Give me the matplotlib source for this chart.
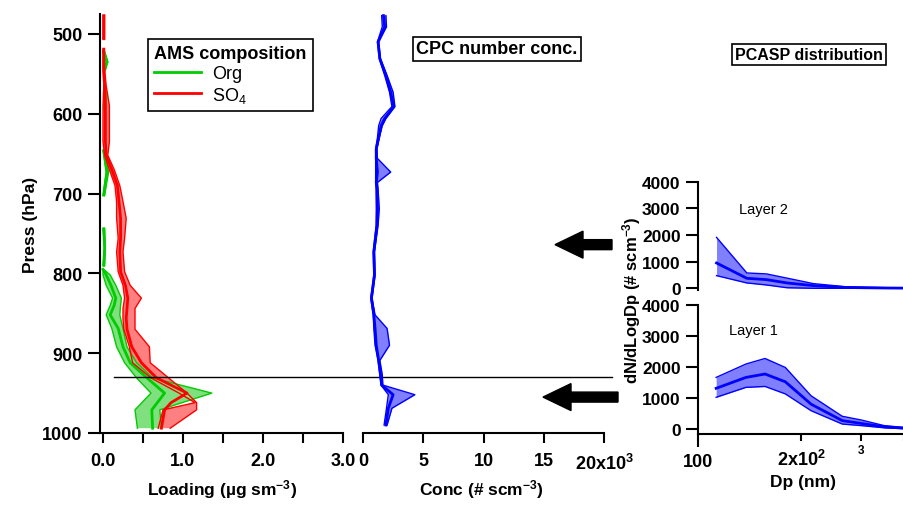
import numpy as np
import matplotlib
matplotlib.use("Agg")
import matplotlib.pyplot as plt
from matplotlib.patches import FancyArrow
from matplotlib.lines import Line2D
from matplotlib.transforms import blended_transform_factory

plt.rcParams['font.family'] = ['Liberation Sans', 'DejaVu Sans']
plt.rcParams['mathtext.fontset'] = 'custom'
plt.rcParams['mathtext.rm'] = 'Liberation Sans'
plt.rcParams['mathtext.bf'] = 'Liberation Sans:bold'
plt.rcParams['mathtext.default'] = 'rm'

nan = np.nan

# ---------------------------------------------------------------
# AMS organics profile (ug sm-3), lower / mean / upper, vs pressure (hPa)
org_p = [522, 535, 545, 552, 565, 580, 594, 620, 646, 673, 702, 720, 744, 768, 790,
         792, 795, 802, 815, 831, 840, 852, 869, 892, 912, 931, 950, 971, 994]
org_lo = [0.00, 0.04, 0.01, nan, 0.01, 0.02, 0.01, nan, 0.00, 0.04, 0.00, nan, 0.00, 0.02, 0.00,
          nan, 0.00, 0.00, 0.04, 0.12, 0.09, 0.04, 0.11, 0.17, 0.27, 0.42, 0.60, 0.40, 0.43]
org_mean = [0.01, 0.05, 0.02, nan, 0.02, 0.03, 0.02, nan, 0.01, 0.05, 0.01, nan, 0.01, 0.02, 0.01,
            nan, 0.00, 0.04, 0.10, 0.16, 0.14, 0.09, 0.19, 0.25, 0.34, 0.55, 0.77, 0.61, 0.62]
org_hi = [0.02, 0.06, 0.03, nan, 0.03, 0.04, 0.03, nan, 0.02, 0.07, 0.02, nan, 0.02, 0.03, 0.02,
          nan, 0.01, 0.09, 0.16, 0.23, 0.22, 0.21, 0.25, 0.30, 0.42, 0.62, 1.36, 0.71, 0.73]

# AMS sulphate profile
so4_p = [477, 490, 506, 512, 519, 544, 565, 590, 605, 635, 652, 670, 690, 710, 731,
         756, 773, 798, 815, 831, 844, 856, 870, 892, 912, 931, 950, 962, 971, 994]
so4_lo = [0.00, 0.00, 0.00, nan, 0.00, 0.00, 0.01, 0.00, 0.00, 0.00, 0.02, 0.08, 0.15, 0.17, 0.17,
          0.19, 0.17, 0.19, 0.25, 0.27, 0.25, 0.25, 0.26, 0.33, 0.37, 0.60, 0.95, 1.15, 0.75, 0.69]
so4_mean = [0.01, 0.01, 0.01, nan, 0.01, 0.01, 0.02, 0.03, 0.03, 0.03, 0.04, 0.11, 0.18, 0.20, 0.22,
            0.22, 0.21, 0.22, 0.28, 0.31, 0.30, 0.29, 0.30, 0.36, 0.48, 0.67, 1.05, 0.85, 0.77, 0.73]
so4_hi = [0.02, 0.02, 0.02, nan, 0.01, 0.02, 0.04, 0.08, 0.08, 0.08, 0.06, 0.14, 0.21, 0.25, 0.29,
          0.27, 0.25, 0.27, 0.34, 0.48, 0.40, 0.40, 0.40, 0.58, 0.59, 0.82, 1.05, 1.17, 1.17, 0.84]

# CPC number concentration (x10^3 # scm-3)
cpc_p = [477, 491, 510, 531, 552, 573, 591, 606, 615, 630, 644, 656, 673, 686, 694,
         719, 740, 773, 802, 831, 852, 869, 890, 909, 927, 940, 952, 969, 990]
cpc_lo = [1.55, 1.6, 1.2, 1.35, 1.8, 2.2, 2.4, 1.5, 1.3, 1.2, 1.05, 1.05, 1.05, 1.05, 1.1,
          1.1, 1.1, 0.85, 0.9, 0.65, 0.85, 0.9, 1.0, 1.25, 1.4, 1.5, 2.1, 1.95, 1.75]
cpc_mean = [1.7, 1.8, 1.25, 1.4, 1.9, 2.3, 2.55, 1.8, 1.5, 1.3, 1.1, 1.1, 1.2, 1.1, 1.15,
            1.2, 1.15, 0.9, 0.95, 0.7, 0.9, 1.0, 1.1, 1.3, 1.45, 1.55, 2.5, 2.1, 1.9]
cpc_hi = [1.9, 1.95, 1.3, 1.45, 2.0, 2.5, 2.65, 1.9, 1.6, 1.35, 1.15, 1.2, 2.3, 1.2, 1.25,
          1.35, 1.25, 0.95, 1.0, 0.75, 1.0, 2.0, 2.2, 1.4, 1.6, 1.65, 4.3, 2.4, 2.0]

# PCASP size distributions (dN/dlogDp) for the two layers
dp = [113, 138, 157, 180, 214, 264, 300, 350, 400]
l1_mean = [1310, 1660, 1770, 1520, 800, 270, 180, 70, 30]
l1_lo = [1020, 1340, 1370, 1130, 590, 160, 110, 40, 10]
l1_hi = [1660, 2090, 2270, 1980, 1070, 410, 290, 110, 50]
l2_mean = [950, 375, 325, 200, 100, 30, 20, 10, 5]
l2_lo = [475, 200, 125, 20, 0, 0, 0, 0, 0]
l2_hi = [1910, 575, 540, 380, 175, 60, 40, 20, 10]

layer_top = 930       # hPa, top of the lower layer
arrow_p = [764, 955]  # hPa, the two layers

# ---------------------------------------------------------------
W, H = 904, 506
fig = plt.figure(figsize=(W / 100, H / 100), dpi=100)


def px_axes(left, right, top, bottom):
    ax = fig.add_axes([left / W, 1 - bottom / H, (right - left) / W, (bottom - top) / H])
    ax.set_facecolor('none')
    return ax


def style(ax, keep):
    for s in ['left', 'right', 'top', 'bottom']:
        ax.spines[s].set_visible(s in keep)
        ax.spines[s].set_linewidth(1.5)
    ax.tick_params(which='both', direction='out', width=1.5, labelsize=13, length=7)
    ax.tick_params(axis='x', which='both', pad=7)
    labels = (ax.get_xticklabels() + ax.get_yticklabels()
              + ax.get_xticklabels(minor=True))
    for lab in labels:
        lab.set_fontweight('bold')


GREEN, RED, BLUE = '#00cc00', '#ff0000', '#0000ff'
GFILL, RFILL, BFILL = '#80e080', '#ff8080', '#8080ff'

# panel 1: AMS
ax1 = px_axes(100, 343, 15, 434)
ax1.fill_betweenx(so4_p, so4_lo, so4_hi, color=RFILL, lw=0)
ax1.fill_betweenx(org_p, org_lo, org_hi, color=GFILL, lw=0)
for lo, hi, mean, p, c in [(org_lo, org_hi, org_mean, org_p, GREEN),
                           (so4_lo, so4_hi, so4_mean, so4_p, RED)]:
    ax1.plot(lo, p, color=c, lw=1)
    ax1.plot(hi, p, color=c, lw=1)
    ax1.plot(mean, p, color=c, lw=2)
ax1.set_xlim(-0.0375, 3.0)
ax1.set_ylim(1000, 475)
ax1.set_yticks([500, 600, 700, 800, 900, 1000])
ax1.set_xticks([0, 1, 2, 3], ['0.0', '1.0', '2.0', '3.0'])
ax1.set_xticks([0.5, 1.5, 2.5], minor=True)
style(ax1, ['left', 'bottom'])
ax1.tick_params(axis='y', length=9)
ax1.plot([0.1375, 6.36], [layer_top, layer_top], color='black', lw=1, clip_on=False)

handles = [Line2D([], [], color=GREEN, lw=2), Line2D([], [], color=RED, lw=2)]
leg = ax1.legend(handles, ['Org', 'SO$_4$'], title='AMS composition',
                 loc='upper left', bbox_to_anchor=(148 / W, 1 - 40 / H),
                 bbox_transform=fig.transFigure, fancybox=False, edgecolor='black',
                 framealpha=1, fontsize=13, handlelength=2.6, borderpad=0.35,
                 labelspacing=0.15, handletextpad=0.6, borderaxespad=0,
                 alignment='left', title_fontproperties={'weight': 'bold', 'size': 13})
leg.get_frame().set_linewidth(1.2)

# panel 2: CPC
ax2 = px_axes(363, 604, 15, 434)
ax2.fill_betweenx(cpc_p, cpc_lo, cpc_hi, color=BFILL, lw=0)
ax2.plot(cpc_lo, cpc_p, color=BLUE, lw=1)
ax2.plot(cpc_hi, cpc_p, color=BLUE, lw=1)
ax2.plot(cpc_mean, cpc_p, color=BLUE, lw=2)
ax2.set_xlim(0, 20)
ax2.set_ylim(1000, 475)
ax2.set_yticks([])
ax2.set_xticks([0, 5, 10, 15, 20], ['0', '5', '10', '15', r'20x10$^{\mathbf{3}}$'])
style(ax2, ['bottom'])

# panel 3: PCASP, two stacked log axes
ax3b = px_axes(698, 904, 305.7, 435)
ax3a = px_axes(698, 904, 182.7, 290.7)
for ax, lo, hi, mean in [(ax3b, l1_lo, l1_hi, l1_mean), (ax3a, l2_lo, l2_hi, l2_mean)]:
    ax.fill_between(dp, lo, hi, color=BFILL, lw=0)
    ax.plot(dp, lo, color=BLUE, lw=1)
    ax.plot(dp, hi, color=BLUE, lw=1)
    ax.plot(dp, mean, color=BLUE, lw=2)
    ax.set_xscale('log')
    ax.set_xlim(100, 389)
    ax.set_yticks([0, 1000, 2000, 3000, 4000])
ax3b.set_ylim(-160, 4000)
ax3a.set_ylim(-53, 4000)
ax3b.set_xticks([100], ['100'])
ax3b.set_xticks([200, 300, 400], [r'2x10$^{\mathbf{2}}$', '', ''], minor=True)
ax3a.set_xticks([])
ax3a.set_xticks([], minor=True)
style(ax3b, ['left', 'bottom'])
style(ax3a, ['left'])
ax3b.tick_params(axis='x', which='minor', length=5, pad=6)
ax3b.tick_params(axis='x', which='major', length=9, pad=5)
ax3b.tick_params(axis='y', length=9, labelsize=12.5)
ax3a.tick_params(axis='y', length=9, labelsize=12.5)
tr = blended_transform_factory(ax3b.transData, ax3b.transAxes)
ax3b.text(300, -0.08, '3', transform=tr, ha='center', va='top', fontsize=8.5, fontweight='bold')

ax3a.text(763 / W, 1 - 210 / H, 'Layer 2', transform=fig.transFigure, ha='center', va='center', fontsize=10.5)
ax3b.text(753 / W, 1 - 331 / H, 'Layer 1', transform=fig.transFigure, ha='center', va='center', fontsize=10.5)

# axis labels
fig.text(30 / W, 1 - 225 / H, 'Press (hPa)', rotation=90, ha='center', va='center',
         fontsize=12.5, fontweight='bold')
fig.text(222 / W, 1 - 490 / H, r'Loading (µg sm$^{\mathbf{-3}}$)', ha='center', va='center',
         fontsize=12.5, fontweight='bold')
fig.text(481 / W, 1 - 490 / H, r'Conc (# scm$^{\mathbf{-3}}$)', ha='center', va='center',
         fontsize=12.5, fontweight='bold')
fig.text(803 / W, 1 - 483 / H, 'Dp (nm)', ha='center', va='center',
         fontsize=12.5, fontweight='bold')
fig.text(632 / W, 1 - 300 / H, r'dN/dLogDp (# scm$^{\mathbf{-3}}$)', rotation=90,
         ha='center', va='center', fontsize=12, fontweight='bold')

# boxed titles
box = dict(boxstyle='square,pad=0.2', fc='white', ec='black', lw=1.2)
fig.text(497 / W, 1 - 50 / H, 'CPC number conc.', ha='center', va='center',
         fontsize=13, fontweight='bold', bbox=box)
fig.text(809 / W, 1 - 55.5 / H, 'PCASP distribution', ha='center', va='center',
         fontsize=11.5, fontweight='bold', bbox=box)

# arrows pointing from the size distributions to the layers
def p_to_fig(p):
    return ax1.transData.transform((0, p))[1] / H

fig.canvas.draw()
for p, tip, tail in [(arrow_p[0], 555, 612), (arrow_p[1], 543, 618)]:
    y = p_to_fig(p)
    fig.patches.append(FancyArrow(tail / W, y, -(tail - tip) / W, 0, width=10 / H,
                                  head_width=27 / H, head_length=28 / W,
                                  length_includes_head=True, color='black',
                                  transform=fig.transFigure, figure=fig))

fig.savefig('out.png', dpi=100)
